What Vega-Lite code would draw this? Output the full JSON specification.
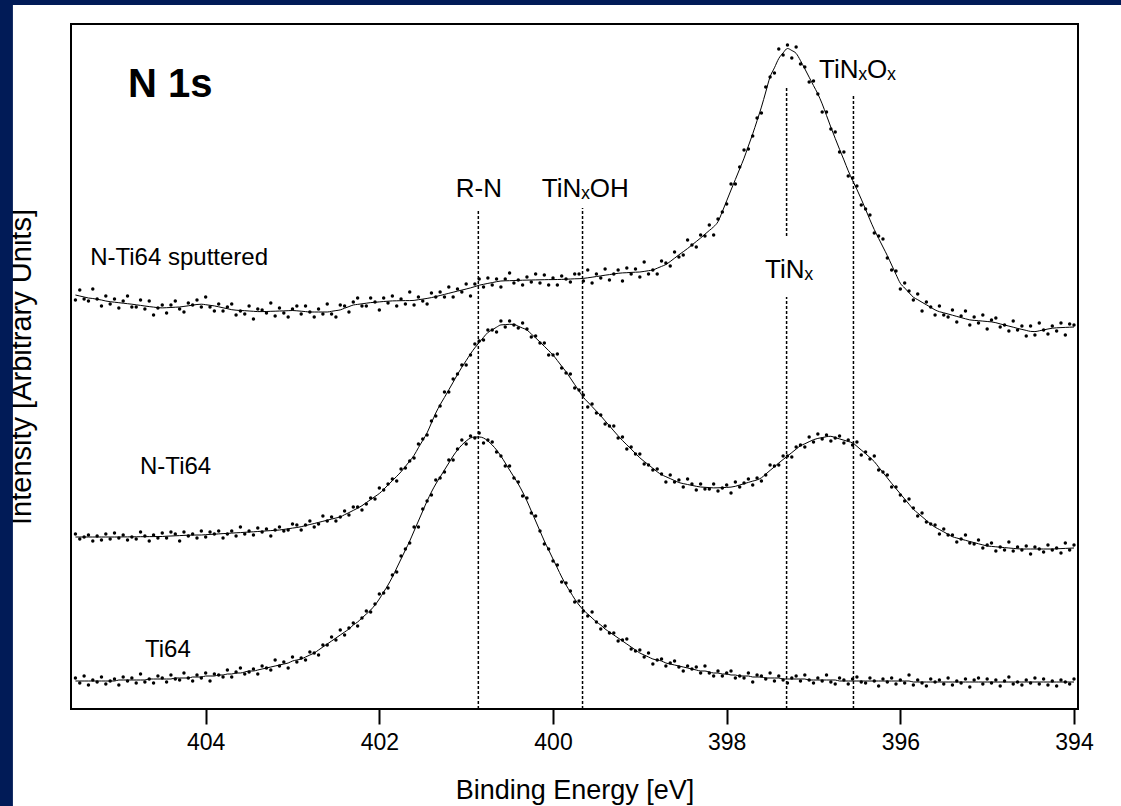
{
"$schema":"https://vega.github.io/schema/vega-lite/v6.json",
"width":1007,"height":685,
"autosize":{"type":"none"},
"padding":{"left":71,"top":24,"right":43,"bottom":97},
"background":"white",
"datasets":{
"spec":[
{"e":405.5,"a":409,"af":414,"b":175,"bf":172,"c":31,"cf":28},
{"e":405.45,"a":419,"af":413,"b":170,"bf":172,"c":26,"cf":28},
{"e":405.4,"a":410,"af":412,"b":172,"bf":172,"c":33,"cf":28},
{"e":405.35,"a":408,"af":411,"b":174,"bf":172,"c":24,"cf":28},
{"e":405.3,"a":420,"af":410.5,"b":168,"bf":172,"c":29,"cf":28},
{"e":405.25,"a":410,"af":409.7,"b":173,"bf":172,"c":27,"cf":28},
{"e":405.2,"a":403,"af":409,"b":169,"bf":172,"c":32,"cf":28},
{"e":405.15,"a":413,"af":408,"b":175,"bf":172,"c":25,"cf":28},
{"e":405.1,"a":405,"af":407.3,"b":170,"bf":172,"c":28,"cf":28},
{"e":405.05,"a":410,"af":406.8,"b":176,"bf":172,"c":30,"cf":28},
{"e":405.0,"a":401,"af":406.3,"b":171,"bf":172,"c":24,"cf":29},
{"e":404.95,"a":408,"af":405.8,"b":174,"bf":172.1,"c":32,"cf":29},
{"e":404.9,"a":413,"af":405.3,"b":169,"bf":172.1,"c":28,"cf":29},
{"e":404.85,"a":402,"af":404.8,"b":172,"bf":172.2,"c":31,"cf":29},
{"e":404.8,"a":402,"af":404.2,"b":170,"bf":172.2,"c":26,"cf":29},
{"e":404.75,"a":409,"af":403.6,"b":177,"bf":172.3,"c":35,"cf":29},
{"e":404.7,"a":400,"af":403,"b":173,"bf":172.3,"c":27,"cf":29},
{"e":404.65,"a":408,"af":402.4,"b":168,"bf":172.4,"c":30,"cf":30},
{"e":404.6,"a":394,"af":401.9,"b":174,"bf":172.4,"c":26,"cf":30},
{"e":404.55,"a":401,"af":401.3,"b":171,"bf":172.5,"c":33,"cf":30},
{"e":404.5,"a":404,"af":401.1,"b":176,"bf":172.5,"c":31,"cf":30},
{"e":404.45,"a":396,"af":401.3,"b":171,"bf":172.8,"c":27,"cf":30},
{"e":404.4,"a":404,"af":401.5,"b":177,"bf":173,"c":34,"cf":30},
{"e":404.35,"a":408,"af":401.8,"b":175,"bf":173.2,"c":30,"cf":31},
{"e":404.3,"a":400,"af":402,"b":168,"bf":173.4,"c":29,"cf":31},
{"e":404.25,"a":397,"af":402.6,"b":177,"bf":173.6,"c":36,"cf":31},
{"e":404.2,"a":406,"af":403.2,"b":173,"bf":173.8,"c":31,"cf":31},
{"e":404.15,"a":404,"af":403.9,"b":175,"bf":173.9,"c":28,"cf":32},
{"e":404.1,"a":409,"af":404.5,"b":171,"bf":174,"c":34,"cf":32},
{"e":404.05,"a":402,"af":404.8,"b":178,"bf":174,"c":31,"cf":32},
{"e":404.0,"a":412,"af":404.3,"b":172,"bf":174.3,"c":36,"cf":33},
{"e":403.95,"a":402,"af":403.7,"b":177,"bf":174.6,"c":28,"cf":33},
{"e":403.9,"a":398,"af":403.1,"b":175,"bf":174.8,"c":35,"cf":33},
{"e":403.85,"a":405,"af":402.2,"b":178,"bf":175.1,"c":34,"cf":34},
{"e":403.8,"a":398,"af":401.2,"b":171,"bf":175.4,"c":32,"cf":34},
{"e":403.75,"a":402,"af":400.3,"b":175,"bf":175.6,"c":39,"cf":35},
{"e":403.7,"a":405,"af":399.3,"b":178,"bf":175.9,"c":32,"cf":35},
{"e":403.65,"a":394,"af":398.8,"b":173,"bf":176.2,"c":37,"cf":36},
{"e":403.6,"a":398,"af":398.5,"b":182,"bf":176.4,"c":41,"cf":36},
{"e":403.55,"a":395,"af":398.3,"b":175,"bf":176.7,"c":35,"cf":37},
{"e":403.5,"a":403,"af":398,"b":178,"bf":177,"c":37,"cf":38},
{"e":403.45,"a":390,"af":397.7,"b":174,"bf":177.2,"c":40,"cf":38},
{"e":403.4,"a":400,"af":397.4,"b":181,"bf":177.5,"c":35,"cf":39},
{"e":403.35,"a":399,"af":397.4,"b":177,"bf":177.8,"c":43,"cf":40},
{"e":403.3,"a":396,"af":397.5,"b":180,"bf":178.1,"c":41,"cf":41},
{"e":403.25,"a":406,"af":397.7,"b":173,"bf":178.4,"c":39,"cf":42},
{"e":403.2,"a":393,"af":397.8,"b":179,"bf":178.7,"c":49,"cf":43},
{"e":403.15,"a":401,"af":398,"b":182,"bf":179,"c":43,"cf":44},
{"e":403.1,"a":396,"af":398.1,"b":178,"bf":179.6,"c":47,"cf":45},
{"e":403.05,"a":392,"af":398.3,"b":179,"bf":180.2,"c":41,"cf":46},
{"e":403.0,"a":400,"af":398.5,"b":185,"bf":180.9,"c":52,"cf":48},
{"e":402.95,"a":403,"af":398.2,"b":184,"bf":181.5,"c":47,"cf":49},
{"e":402.9,"a":395,"af":397.8,"b":179,"bf":182.3,"c":51,"cf":50},
{"e":402.85,"a":403,"af":397.4,"b":184,"bf":183.4,"c":49,"cf":52},
{"e":402.8,"a":397,"af":397,"b":188,"bf":184.5,"c":57,"cf":54},
{"e":402.75,"a":392,"af":397,"b":182,"bf":185.5,"c":56,"cf":56},
{"e":402.7,"a":400,"af":397,"b":185,"bf":186.6,"c":54,"cf":59},
{"e":402.65,"a":395,"af":397,"b":193,"bf":187.7,"c":64,"cf":62},
{"e":402.6,"a":405,"af":397,"b":188,"bf":188.8,"c":64,"cf":65},
{"e":402.55,"a":395,"af":397.7,"b":192,"bf":189.9,"c":72,"cf":68},
{"e":402.5,"a":392,"af":398.4,"b":188,"bf":191,"c":69,"cf":71},
{"e":402.45,"a":404,"af":399.1,"b":192,"bf":192.1,"c":79,"cf":74},
{"e":402.4,"a":403,"af":400.8,"b":198,"bf":194.3,"c":74,"cf":77},
{"e":402.35,"a":397,"af":402.4,"b":194,"bf":196.4,"c":81,"cf":80},
{"e":402.3,"a":407,"af":404,"b":202,"bf":198.6,"c":86,"cf":84},
{"e":402.25,"a":411,"af":404.6,"b":202,"bf":200.8,"c":83,"cf":87},
{"e":402.2,"a":403,"af":405.2,"b":199,"bf":203.3,"c":91,"cf":91},
{"e":402.15,"a":403,"af":405.8,"b":205,"bf":206.4,"c":98,"cf":95},
{"e":402.1,"a":411,"af":406.4,"b":211,"bf":209.4,"c":97,"cf":99},
{"e":402.05,"a":407,"af":406.7,"b":210,"bf":212.5,"c":105,"cf":104},
{"e":402.0,"a":399,"af":407.1,"b":221,"bf":215.5,"c":115,"cf":110},
{"e":401.95,"a":411,"af":407.5,"b":219,"bf":219.6,"c":116,"cf":117},
{"e":401.9,"a":406,"af":407.8,"b":225,"bf":224,"c":121,"cf":124},
{"e":401.85,"a":413,"af":408.1,"b":230,"bf":228.3,"c":134,"cf":132},
{"e":401.8,"a":403,"af":408.2,"b":228,"bf":232.7,"c":137,"cf":141},
{"e":401.75,"a":410,"af":408.3,"b":240,"bf":237.2,"c":153,"cf":150},
{"e":401.7,"a":405,"af":408.4,"b":241,"bf":242.6,"c":160,"cf":159},
{"e":401.65,"a":417,"af":408.4,"b":248,"bf":248,"c":166,"cf":168},
{"e":401.6,"a":404,"af":408.6,"b":251,"bf":253.7,"c":182,"cf":178},
{"e":401.55,"a":412,"af":409.3,"b":265,"bf":261.3,"c":182,"cf":188},
{"e":401.5,"a":408,"af":409.9,"b":270,"bf":268.6,"c":200,"cf":198},
{"e":401.45,"a":405,"af":410.6,"b":274,"bf":276.2,"c":208,"cf":208},
{"e":401.4,"a":416,"af":411.4,"b":288,"bf":286.1,"c":214,"cf":217},
{"e":401.35,"a":412,"af":412.4,"b":293,"bf":296,"c":229,"cf":225},
{"e":401.3,"a":417,"af":413.5,"b":303,"bf":304.3,"c":231,"cf":232},
{"e":401.25,"a":412,"af":414.6,"b":317,"bf":311.6,"c":237,"cf":239},
{"e":401.2,"a":422,"af":415.7,"b":317,"bf":319.2,"c":249,"cf":246},
{"e":401.15,"a":412,"af":416.8,"b":330,"bf":326.8,"c":249,"cf":253},
{"e":401.1,"a":420,"af":417.9,"b":335,"bf":334.6,"c":260,"cf":259},
{"e":401.05,"a":417,"af":418.9,"b":344,"bf":341.8,"c":269,"cf":264},
{"e":401.0,"a":425,"af":420,"b":344,"bf":348.4,"c":265,"cf":268},
{"e":400.95,"a":413,"af":421.1,"b":354,"bf":355.2,"c":273,"cf":271},
{"e":400.9,"a":425,"af":422.4,"b":365,"bf":361.2,"c":271,"cf":272},
{"e":400.85,"a":430,"af":423.8,"b":368,"bf":366.5,"c":276,"cf":272},
{"e":400.8,"a":422,"af":424.7,"b":369,"bf":371.7,"c":266,"cf":271},
{"e":400.75,"a":431,"af":425.6,"b":379,"bf":376.5,"c":269,"cf":268},
{"e":400.7,"a":424,"af":426.4,"b":379,"bf":379.2,"c":267,"cf":264},
{"e":400.65,"a":430,"af":427.3,"b":377,"bf":381.8,"c":257,"cf":259},
{"e":400.6,"a":422,"af":428,"b":388,"bf":384.1,"c":253,"cf":253},
{"e":400.55,"a":430,"af":428.2,"b":382,"bf":384.4,"c":243,"cf":246},
{"e":400.5,"a":436,"af":428.3,"b":388,"bf":384.7,"c":243,"cf":239},
{"e":400.45,"a":426,"af":428.5,"b":384,"bf":384.6,"c":231,"cf":232},
{"e":400.4,"a":429,"af":428.6,"b":381,"bf":382.8,"c":227,"cf":225},
{"e":400.35,"a":424,"af":428.8,"b":386,"bf":380.9,"c":213,"cf":217},
{"e":400.3,"a":432,"af":428.9,"b":380,"bf":379,"c":211,"cf":208},
{"e":400.25,"a":427,"af":429,"b":372,"bf":375,"c":196,"cf":198},
{"e":400.2,"a":435,"af":429.1,"b":373,"bf":371.1,"c":193,"cf":188},
{"e":400.15,"a":426,"af":429.2,"b":366,"bf":367,"c":178,"cf":178},
{"e":400.1,"a":434,"af":429.3,"b":366,"bf":362.7,"c":165,"cf":168},
{"e":400.05,"a":424,"af":429.4,"b":354,"bf":358.4,"c":160,"cf":159},
{"e":400.0,"a":431,"af":429.4,"b":354,"bf":354,"c":148,"cf":150},
{"e":399.95,"a":424,"af":429.5,"b":355,"bf":348.5,"c":144,"cf":141},
{"e":399.9,"a":433,"af":429.6,"b":341,"bf":342.8,"c":127,"cf":132},
{"e":399.85,"a":430,"af":429.8,"b":336,"bf":337.3,"c":126,"cf":124},
{"e":399.8,"a":427,"af":430,"b":335,"bf":330.9,"c":118,"cf":117},
{"e":399.75,"a":435,"af":430.2,"b":321,"bf":324.4,"c":107,"cf":110},
{"e":399.7,"a":435,"af":430.3,"b":319,"bf":318,"c":108,"cf":104},
{"e":399.65,"a":428,"af":430.6,"b":314,"bf":311.6,"c":98,"cf":99},
{"e":399.6,"a":439,"af":431.2,"b":302,"bf":307,"c":93,"cf":95},
{"e":399.55,"a":426,"af":431.8,"b":305,"bf":302.4,"c":97,"cf":91},
{"e":399.5,"a":435,"af":432.5,"b":296,"bf":297.8,"c":87,"cf":87},
{"e":399.45,"a":431,"af":433.1,"b":294,"bf":293.2,"c":80,"cf":84},
{"e":399.4,"a":440,"af":433.8,"b":285,"bf":288.1,"c":83,"cf":80},
{"e":399.35,"a":429,"af":434.4,"b":283,"bf":283.2,"c":76,"cf":77},
{"e":399.3,"a":435,"af":435.1,"b":283,"bf":278.1,"c":76,"cf":74},
{"e":399.25,"a":439,"af":435.7,"b":271,"bf":273.2,"c":68,"cf":71},
{"e":399.2,"a":428,"af":436.1,"b":272,"bf":268.5,"c":69,"cf":68},
{"e":399.15,"a":441,"af":436.3,"b":260,"bf":264.2,"c":70,"cf":65},
{"e":399.1,"a":435,"af":436.6,"b":262,"bf":259.9,"c":60,"cf":62},
{"e":399.05,"a":440,"af":436.8,"b":255,"bf":255.5,"c":58,"cf":59},
{"e":399.0,"a":432,"af":437,"b":255,"bf":251.2,"c":59,"cf":56},
{"e":398.95,"a":447,"af":437.6,"b":245,"bf":247.6,"c":52,"cf":54},
{"e":398.9,"a":435,"af":438.3,"b":244,"bf":244.2,"c":56,"cf":52},
{"e":398.85,"a":439,"af":439,"b":239,"bf":240.7,"c":45,"cf":50},
{"e":398.8,"a":435,"af":440.8,"b":240,"bf":237.2,"c":49,"cf":49},
{"e":398.75,"a":448,"af":442.6,"b":235,"bf":234.3,"c":50,"cf":48},
{"e":398.7,"a":446,"af":444.5,"b":227,"bf":232.3,"c":43,"cf":46},
{"e":398.65,"a":443,"af":447.5,"b":234,"bf":230.4,"c":46,"cf":45},
{"e":398.6,"a":457,"af":450.8,"b":227,"bf":228.4,"c":48,"cf":44},
{"e":398.55,"a":452,"af":454.2,"b":229,"bf":226.5,"c":42,"cf":43},
{"e":398.5,"a":454,"af":457.3,"b":222,"bf":225.4,"c":38,"cf":42},
{"e":398.45,"a":469,"af":460.5,"b":230,"bf":224.5,"c":43,"cf":41},
{"e":398.4,"a":464,"af":464,"b":225,"bf":223.6,"c":40,"cf":40},
{"e":398.35,"a":462,"af":467.5,"b":219,"bf":222.7,"c":42,"cf":39},
{"e":398.3,"a":474,"af":471,"b":225,"bf":222,"c":36,"cf":38},
{"e":398.25,"a":473,"af":474.8,"b":220,"bf":221.7,"c":43,"cf":38},
{"e":398.2,"a":484,"af":478.5,"b":220,"bf":221.4,"c":36,"cf":37},
{"e":398.15,"a":474,"af":482.2,"b":225,"bf":221.1,"c":33,"cf":36},
{"e":398.1,"a":490,"af":487.3,"b":218,"bf":221.2,"c":38,"cf":36},
{"e":398.05,"a":497,"af":497.4,"b":221,"bf":221.4,"c":33,"cf":35},
{"e":398.0,"a":505,"af":508.2,"b":224,"bf":221.6,"c":36,"cf":35},
{"e":397.95,"a":525,"af":519,"b":216,"bf":221.9,"c":38,"cf":34},
{"e":397.9,"a":525,"af":529.5,"b":227,"bf":222.7,"c":31,"cf":34},
{"e":397.85,"a":542,"af":540.1,"b":222,"bf":224,"c":33,"cf":33},
{"e":397.8,"a":559,"af":550.8,"b":226,"bf":225.3,"c":31,"cf":33},
{"e":397.75,"a":560,"af":563,"b":230,"bf":226.6,"c":36,"cf":33},
{"e":397.7,"a":573,"af":575.2,"b":224,"bf":227.9,"c":27,"cf":32},
{"e":397.65,"a":591,"af":588.3,"b":231,"bf":229.1,"c":34,"cf":32},
{"e":397.6,"a":596,"af":601.9,"b":228,"bf":231.2,"c":33,"cf":32},
{"e":397.55,"a":622,"af":617,"b":234,"bf":234.9,"c":30,"cf":31},
{"e":397.5,"a":632,"af":632.2,"b":244,"bf":238.6,"c":36,"cf":31},
{"e":397.45,"a":636,"af":641.2,"b":243,"bf":242.2,"c":28,"cf":31},
{"e":397.4,"a":660,"af":650.5,"b":244,"bf":246,"c":33,"cf":31},
{"e":397.35,"a":654,"af":656.1,"b":253,"bf":249.5,"c":29,"cf":30},
{"e":397.3,"a":664,"af":660.5,"b":253,"bf":253,"c":26,"cf":30},
{"e":397.25,"a":651,"af":658.5,"b":252,"bf":256.4,"c":31,"cf":30},
{"e":397.2,"a":662,"af":655.6,"b":262,"bf":259.9,"c":33,"cf":30},
{"e":397.15,"a":645,"af":648.4,"b":264,"bf":263.2,"c":28,"cf":30},
{"e":397.1,"a":642,"af":640.2,"b":262,"bf":265.2,"c":34,"cf":30},
{"e":397.05,"a":627,"af":631.8,"b":272,"bf":267.3,"c":29,"cf":29},
{"e":397.0,"a":628,"af":623.4,"b":267,"bf":269.3,"c":26,"cf":29},
{"e":396.95,"a":615,"af":615.1,"b":275,"bf":270.6,"c":31,"cf":29},
{"e":396.9,"a":597,"af":605.1,"b":270,"bf":271.4,"c":28,"cf":29},
{"e":396.85,"a":597,"af":593.5,"b":274,"bf":272.3,"c":34,"cf":29},
{"e":396.8,"a":580,"af":581.8,"b":268,"bf":272.7,"c":27,"cf":29},
{"e":396.75,"a":577,"af":570.6,"b":271,"bf":271.4,"c":25,"cf":29},
{"e":396.7,"a":557,"af":559.7,"b":273,"bf":270.1,"c":31,"cf":28},
{"e":396.65,"a":557,"af":549.1,"b":266,"bf":268.8,"c":29,"cf":28},
{"e":396.6,"a":533,"af":538.2,"b":269,"bf":267.5,"c":25,"cf":28},
{"e":396.55,"a":531,"af":528.5,"b":264,"bf":266.1,"c":30,"cf":28},
{"e":396.5,"a":523,"af":519.5,"b":267,"bf":262.7,"c":32,"cf":28},
{"e":396.45,"a":504,"af":509.9,"b":254,"bf":259,"c":27,"cf":28},
{"e":396.4,"a":500,"af":499.6,"b":257,"bf":255.3,"c":26,"cf":28},
{"e":396.35,"a":494,"af":489.2,"b":250,"bf":251.5,"c":31,"cf":28},
{"e":396.3,"a":476,"af":479.4,"b":253,"bf":247.4,"c":28,"cf":28},
{"e":396.25,"a":473,"af":470.6,"b":239,"bf":241.9,"c":23,"cf":28},
{"e":396.2,"a":470,"af":462,"b":237,"bf":236.5,"c":30,"cf":28},
{"e":396.15,"a":451,"af":453.4,"b":234,"bf":231.1,"c":27,"cf":28},
{"e":396.1,"a":439,"af":444,"b":222,"bf":225.6,"c":31,"cf":28},
{"e":396.05,"a":438,"af":434.6,"b":222,"bf":220.4,"c":25,"cf":28},
{"e":396.0,"a":420,"af":425.7,"b":214,"bf":215.2,"c":29,"cf":28},
{"e":395.95,"a":426,"af":421,"b":208,"bf":210,"c":26,"cf":28},
{"e":395.9,"a":418,"af":416.3,"b":210,"bf":204.8,"c":34,"cf":28},
{"e":395.85,"a":409,"af":411.8,"b":201,"bf":199.7,"c":24,"cf":27},
{"e":395.8,"a":415,"af":409.3,"b":193,"bf":196,"c":29,"cf":27},
{"e":395.75,"a":398,"af":406.7,"b":196,"bf":192.3,"c":26,"cf":27},
{"e":395.7,"a":407,"af":404.2,"b":187,"bf":188.6,"c":23,"cf":27},
{"e":395.65,"a":402,"af":401.7,"b":185,"bf":185,"c":30,"cf":27},
{"e":395.6,"a":394,"af":399.1,"b":184,"bf":181.8,"c":27,"cf":27},
{"e":395.55,"a":403,"af":397.3,"b":175,"bf":179.5,"c":29,"cf":27},
{"e":395.5,"a":394,"af":396.2,"b":180,"bf":177.1,"c":25,"cf":27},
{"e":395.45,"a":392,"af":395,"b":174,"bf":174.7,"c":31,"cf":27},
{"e":395.4,"a":399,"af":393.8,"b":174,"bf":172.3,"c":24,"cf":27},
{"e":395.35,"a":387,"af":392.6,"b":167,"bf":171,"c":28,"cf":27},
{"e":395.3,"a":393,"af":391.4,"b":170,"bf":169.8,"c":26,"cf":27},
{"e":395.25,"a":398,"af":390.2,"b":174,"bf":168.7,"c":30,"cf":27},
{"e":395.2,"a":384,"af":389.1,"b":166,"bf":167.5,"c":22,"cf":27},
{"e":395.15,"a":392,"af":388.6,"b":165,"bf":166.4,"c":29,"cf":27},
{"e":395.1,"a":386,"af":388.3,"b":169,"bf":165.2,"c":31,"cf":27},
{"e":395.05,"a":394,"af":387.9,"b":161,"bf":164.1,"c":25,"cf":27},
{"e":395.0,"a":380,"af":387.5,"b":164,"bf":163,"c":30,"cf":27},
{"e":394.95,"a":389,"af":387.1,"b":166,"bf":162.6,"c":26,"cf":27},
{"e":394.9,"a":391,"af":386.3,"b":158,"bf":162.2,"c":29,"cf":27},
{"e":394.85,"a":382,"af":385.1,"b":162,"bf":161.8,"c":23,"cf":27},
{"e":394.8,"a":384,"af":384,"b":159,"bf":161.4,"c":28,"cf":27},
{"e":394.75,"a":378,"af":382.9,"b":167,"bf":161,"c":32,"cf":27},
{"e":394.7,"a":388,"af":381.8,"b":158,"bf":160.6,"c":25,"cf":27},
{"e":394.65,"a":379,"af":380.6,"b":162,"bf":160.2,"c":27,"cf":27},
{"e":394.6,"a":383,"af":379.6,"b":159,"bf":160,"c":24,"cf":27},
{"e":394.55,"a":373,"af":378.6,"b":163,"bf":160,"c":29,"cf":27},
{"e":394.5,"a":383,"af":377.6,"b":155,"bf":160,"c":26,"cf":27},
{"e":394.45,"a":374,"af":377.4,"b":162,"bf":160,"c":31,"cf":27},
{"e":394.4,"a":386,"af":378.2,"b":160,"bf":160,"c":25,"cf":27},
{"e":394.35,"a":379,"af":379.1,"b":157,"bf":160,"c":30,"cf":27},
{"e":394.3,"a":375,"af":380,"b":164,"bf":160,"c":24,"cf":27},
{"e":394.25,"a":383,"af":380.8,"b":159,"bf":160,"c":28,"cf":27},
{"e":394.2,"a":378,"af":381.2,"b":161,"bf":160.2,"c":23,"cf":27},
{"e":394.15,"a":386,"af":381.4,"b":156,"bf":160.4,"c":29,"cf":27},
{"e":394.1,"a":374,"af":381.6,"b":166,"bf":160.6,"c":27,"cf":27},
{"e":394.05,"a":385,"af":381.8,"b":159,"bf":160.8,"c":25,"cf":27},
{"e":394.0,"a":384,"af":382,"b":164,"bf":161,"c":30,"cf":27}
],
"refs":[
{"e":400.86,"y0":0,"y1":499},
{"e":399.66,"y0":0,"y1":501},
{"e":397.31,"y0":0,"y1":412},
{"e":397.31,"y0":473,"y1":623},
{"e":396.54,"y0":0,"y1":614}
],
"labels":[
{"t":"N 1s","e":404.895,"h":612,"g":"head"},
{"t":"N-Ti64 sputtered","e":405.33,"h":444,"g":"sample"},
{"t":"N-Ti64","e":404.756,"h":235,"g":"sample"},
{"t":"Ti64","e":404.699,"h":52,"g":"sample"},
{"t":"R-N","e":401.12,"h":512,"g":"peak"},
{"t":"TiNₓOH","e":400.13,"h":512,"g":"peak"},
{"t":"TiNₓ","e":397.558,"h":431,"g":"peak"},
{"t":"TiNₓOₓ","e":396.937,"h":631,"g":"peak"}
]
},
"layer":[
{"data":{"values":[{}]},"mark":{"type":"rect","color":"#011b57","clip":false},
 "encoding":{"x":{"datum":406.37,"type":"quantitative","scale":{"domain":[405.551,393.954],"nice":false,"zero":false}},"x2":{"datum":406.22},"y":{"datum":-97,"type":"quantitative","scale":{"domain":[0,685],"nice":false,"zero":false}},"y2":{"datum":709.5}}},
{"data":{"values":[{}]},"mark":{"type":"rect","color":"#011b57","clip":false},
 "encoding":{"x":{"datum":406.37,"type":"quantitative"},"x2":{"datum":393.45},"y":{"datum":704,"type":"quantitative"},"y2":{"datum":709.5}}},
{"data":{"name":"refs"},"mark":{"type":"rule","color":"black","strokeWidth":1.5,"strokeDash":[3,2]},
 "encoding":{"x":{"field":"e","type":"quantitative","title":"Binding Energy [eV]"},"y":{"field":"y0","type":"quantitative","title":"Intensity [Arbitrary Units]"},"y2":{"field":"y1"}}},
{"data":{"name":"spec"},"mark":{"type":"line","color":"black","strokeWidth":1,"interpolate":"monotone"},
 "encoding":{"x":{"field":"e","type":"quantitative","title":"Binding Energy [eV]","axis":{"values":[404,402,400,398,396,394],"format":"d"}},"y":{"field":"af","type":"quantitative","title":"Intensity [Arbitrary Units]"}}},
{"data":{"name":"spec"},"mark":{"type":"line","color":"black","strokeWidth":1,"interpolate":"monotone"},
 "encoding":{"x":{"field":"e","type":"quantitative","title":"Binding Energy [eV]"},"y":{"field":"bf","type":"quantitative","title":"Intensity [Arbitrary Units]"}}},
{"data":{"name":"spec"},"mark":{"type":"line","color":"black","strokeWidth":1,"interpolate":"monotone"},
 "encoding":{"x":{"field":"e","type":"quantitative","title":"Binding Energy [eV]"},"y":{"field":"cf","type":"quantitative","title":"Intensity [Arbitrary Units]"}}},
{"data":{"name":"spec"},"mark":{"type":"circle","color":"black","size":12,"opacity":1},
 "encoding":{"x":{"field":"e","type":"quantitative","title":"Binding Energy [eV]"},"y":{"field":"a","type":"quantitative","title":"Intensity [Arbitrary Units]"}}},
{"data":{"name":"spec"},"mark":{"type":"circle","color":"black","size":12,"opacity":1},
 "encoding":{"x":{"field":"e","type":"quantitative","title":"Binding Energy [eV]"},"y":{"field":"b","type":"quantitative","title":"Intensity [Arbitrary Units]"}}},
{"data":{"name":"spec"},"mark":{"type":"circle","color":"black","size":12,"opacity":1},
 "encoding":{"x":{"field":"e","type":"quantitative","title":"Binding Energy [eV]"},"y":{"field":"c","type":"quantitative","title":"Intensity [Arbitrary Units]"}}},
{"data":{"name":"labels"},"transform":[{"filter":"datum.g === 'head'"}],"mark":{"type":"text","align":"left","baseline":"alphabetic","fontSize":40,"fontWeight":"bold","color":"black"},
 "encoding":{"x":{"field":"e","type":"quantitative","title":"Binding Energy [eV]"},"y":{"field":"h","type":"quantitative","title":"Intensity [Arbitrary Units]"},"text":{"field":"t"}}},
{"data":{"name":"labels"},"transform":[{"filter":"datum.g === 'sample'"}],"mark":{"type":"text","align":"left","baseline":"alphabetic","fontSize":24,"color":"black"},
 "encoding":{"x":{"field":"e","type":"quantitative","title":"Binding Energy [eV]"},"y":{"field":"h","type":"quantitative","title":"Intensity [Arbitrary Units]"},"text":{"field":"t"}}},
{"data":{"name":"labels"},"transform":[{"filter":"datum.g === 'peak'"}],"mark":{"type":"text","align":"left","baseline":"alphabetic","fontSize":26,"color":"black"},
 "encoding":{"x":{"field":"e","type":"quantitative","title":"Binding Energy [eV]"},"y":{"field":"h","type":"quantitative","title":"Intensity [Arbitrary Units]"},"text":{"field":"t"}}}
],
"config":{
"font":"Liberation Sans",
"view":{"stroke":"black","strokeWidth":2},
"axisX":{"tickSize":15,"tickWidth":2,"tickColor":"black","domain":false,"grid":false,"labelFontSize":23,"labelColor":"black","labelPadding":7,"labelFlush":false,"titleFontSize":27,"titleFontWeight":"normal","titleColor":"black","titlePadding":23},
"axisY":{"ticks":false,"labels":false,"domain":false,"grid":false,"titleFontSize":29,"titleFontWeight":"normal","titleColor":"black","titlePadding":35}
}
}
